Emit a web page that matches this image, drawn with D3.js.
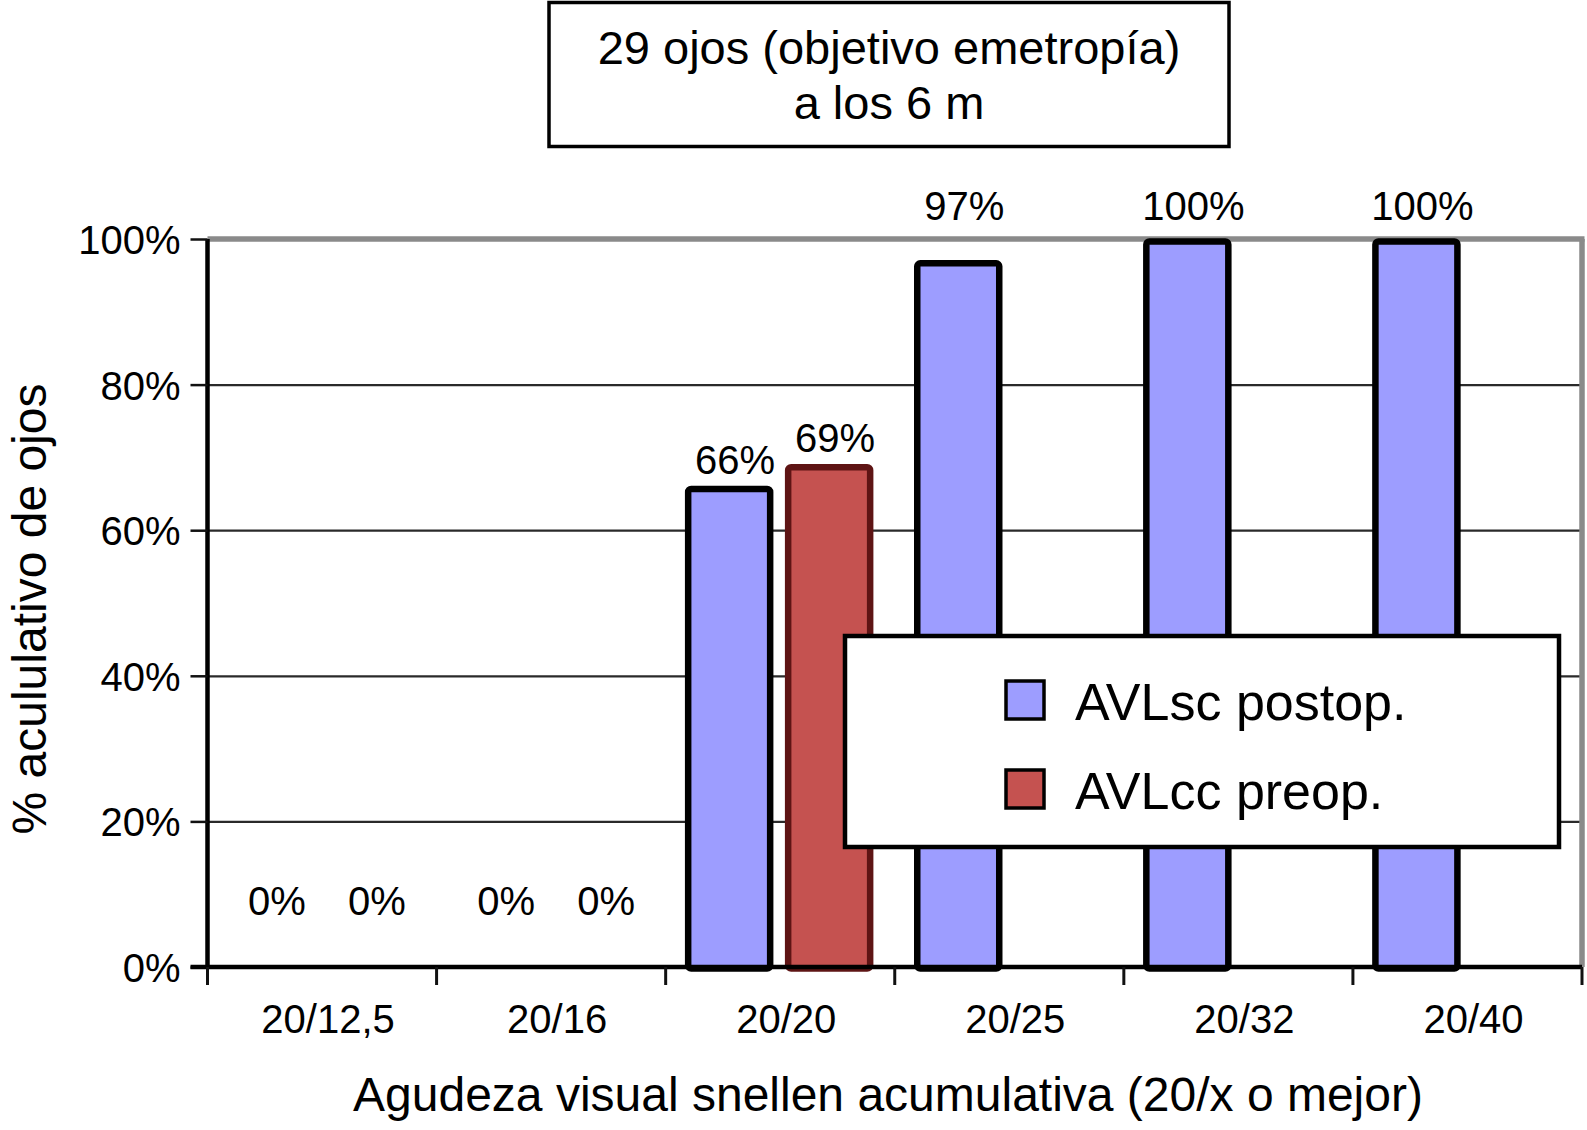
<!DOCTYPE html>
<html>
<head>
<meta charset="utf-8">
<script src="https://cdn.jsdelivr.net/npm/d3@7"></script>
<style>
  html, body { margin: 0; padding: 0; background: #fff; }
  svg { display: block; }
  text { font-family: "Liberation Sans", Arial, Helvetica, sans-serif; fill: #000; }
</style>
</head>
<body>
<svg id="chart" width="1587" height="1130"></svg>
<script>
// ---- data ----
const categories = ["20/12,5", "20/16", "20/20", "20/25", "20/32", "20/40"];
const postopValues = [0, 0, 66, 97, 100, 100];
const preopValues = [0, 0, 69, null, null, null];
const seriesNames = ["AVLsc postop.", "AVLcc preop."];
const seriesKeys = ["postop", "preop"];
const yTicks = [0, 20, 40, 60, 80, 100];
const titleLines = ["29 ojos (objetivo emetropía)", "a los 6 m"];
const xAxisTitle = "Agudeza visual snellen acumulativa (20/x o mejor)";
const yAxisTitle = "% acululativo de ojos";

// ---- layout ----
const plot = { left: 207.5, right: 1582, top: 239, bottom: 967 };
const colors = { postop: "#9d9dff", preop: "#c55250" };
const strokes = { postop: "#000000", preop: "#5e1414" };

const svg = d3.select("#chart");

const x0 = d3.scaleBand().domain(categories).range([plot.left, plot.right]).paddingInner(0).paddingOuter(0);
const x1 = d3.scaleBand().domain(seriesKeys).range([22.5, x0.bandwidth() - 24.6]).paddingInner(0.18).paddingOuter(0);
const y = d3.scaleLinear().domain([0, 100]).range([plot.bottom, plot.top]);

const rows = categories.map((c, i) => ({ cat: c, postop: postopValues[i], preop: preopValues[i] }));

// gridlines (20..80)
const grid = svg.append("g").attr("transform", `translate(${plot.left},0)`)
  .call(d3.axisLeft(y).tickValues(yTicks.filter(t => t > 0 && t < 100)).tickSize(-(plot.right - plot.left)).tickFormat(""));
grid.select(".domain").remove();
grid.selectAll("line").attr("stroke", "#2a2a2a").attr("stroke-width", 2.2);

// gray plot border top & right
svg.append("line").attr("x1", plot.left).attr("x2", plot.right + 2.5).attr("y1", y(100)).attr("y2", y(100))
  .attr("stroke", "#8a8a8a").attr("stroke-width", 5.5);
svg.append("line").attr("x1", plot.right).attr("x2", plot.right).attr("y1", y(100)).attr("y2", plot.bottom)
  .attr("stroke", "#8a8a8a").attr("stroke-width", 5.5);

// bars
const groups = svg.append("g").selectAll("g").data(rows).join("g")
  .attr("transform", d => `translate(${x0(d.cat)},0)`);

groups.selectAll("rect")
  .data(d => seriesKeys.map(k => ({ key: k, value: d[k] })).filter(e => e.value != null && e.value > 0))
  .join("rect")
  .attr("x", e => x1(e.key))
  .attr("width", x1.bandwidth())
  .attr("y", e => y(e.value) + 2.5)
  .attr("height", e => y(0) - y(e.value) - 1)
  .attr("rx", 3)
  .attr("fill", e => colors[e.key])
  .attr("stroke", e => strokes[e.key])
  .attr("stroke-width", 6.5)
  .attr("stroke-linejoin", "round");

// value labels (moved above the plot frame when they would overlap it)
const labelTopLimit = y(100) - 19;
function labelY(v) {
  if (v === 0) return y(0) - 52;
  const base = y(v) - 13;
  return (base - 30 < y(100)) ? labelTopLimit : base;
}
groups.selectAll("text.val")
  .data(d => seriesKeys.map(k => ({ key: k, value: d[k] })).filter(e => e.value != null))
  .join("text")
  .attr("class", "val")
  .attr("x", e => x1(e.key) + x1.bandwidth() / 2 + 6)
  .attr("y", e => labelY(e.value))
  .attr("text-anchor", "middle")
  .attr("font-size", 40)
  .text(e => e.value + "%");

// y axis
const yAxis = svg.append("g").attr("transform", `translate(${plot.left},0)`)
  .call(d3.axisLeft(y).tickValues(yTicks).tickSize(17).tickPadding(10).tickFormat(d => d + "%"));
yAxis.select(".domain").attr("stroke", "#000").attr("stroke-width", 4.5)
  .attr("d", `M0,${y(100)}V${plot.bottom + 2}`);
yAxis.selectAll(".tick line").attr("stroke", "#111").attr("stroke-width", 2.5);
yAxis.selectAll(".tick text").attr("font-size", 40).attr("font-family", "Liberation Sans, Arial, sans-serif")
  .attr("fill", "#000").attr("dy", "0.36em");

// x axis
const xAxis = svg.append("g").attr("transform", `translate(0,${plot.bottom})`)
  .call(d3.axisBottom(x0).tickSize(0).tickPadding(52));
xAxis.select(".domain").attr("stroke", "#000").attr("stroke-width", 4.5)
  .attr("d", `M${plot.left - 17},0H${plot.right}`);
xAxis.selectAll(".tick text").attr("font-size", 40).attr("font-family", "Liberation Sans, Arial, sans-serif")
  .attr("fill", "#000").attr("dy", "0.34em").attr("dx", 6);
const boundaries = categories.map(c => x0(c)).concat([plot.right]);
xAxis.append("g").selectAll("line").data(boundaries).join("line")
  .attr("x1", d => d).attr("x2", d => d).attr("y1", 0).attr("y2", 18)
  .attr("stroke", "#111").attr("stroke-width", 3);

// axis titles
svg.append("text").attr("x", 888).attr("y", 1111).attr("text-anchor", "middle")
  .attr("font-size", 48).text(xAxisTitle);
svg.append("text").attr("transform", `translate(46,${609}) rotate(-90)`).attr("text-anchor", "middle")
  .attr("font-size", 48).text(yAxisTitle);

// title box
svg.append("rect").attr("x", 549).attr("y", 2.5).attr("width", 680).attr("height", 144)
  .attr("fill", "#fff").attr("stroke", "#000").attr("stroke-width", 3.5);
svg.append("g").selectAll("text").data(titleLines).join("text")
  .attr("x", 889).attr("y", (d, i) => 64 + i * 55).attr("text-anchor", "middle")
  .attr("font-size", 47).text(d => d);

// legend
const legend = svg.append("g");
legend.append("rect").attr("x", 845).attr("y", 636).attr("width", 714).attr("height", 211)
  .attr("fill", "#fff").attr("stroke", "#000").attr("stroke-width", 4.5);
const legItems = legend.selectAll("g.item").data(seriesKeys).join("g").attr("class", "item")
  .attr("transform", (d, i) => `translate(0,${i * 89})`);
legItems.append("rect").attr("x", 1006).attr("y", 681).attr("width", 38).attr("height", 38)
  .attr("fill", d => colors[d]).attr("stroke", "#000").attr("stroke-width", 3.5);
legItems.append("text").attr("x", 1075).attr("y", 720).attr("font-size", 52)
  .text((d, i) => seriesNames[i]);
</script>
</body>
</html>
